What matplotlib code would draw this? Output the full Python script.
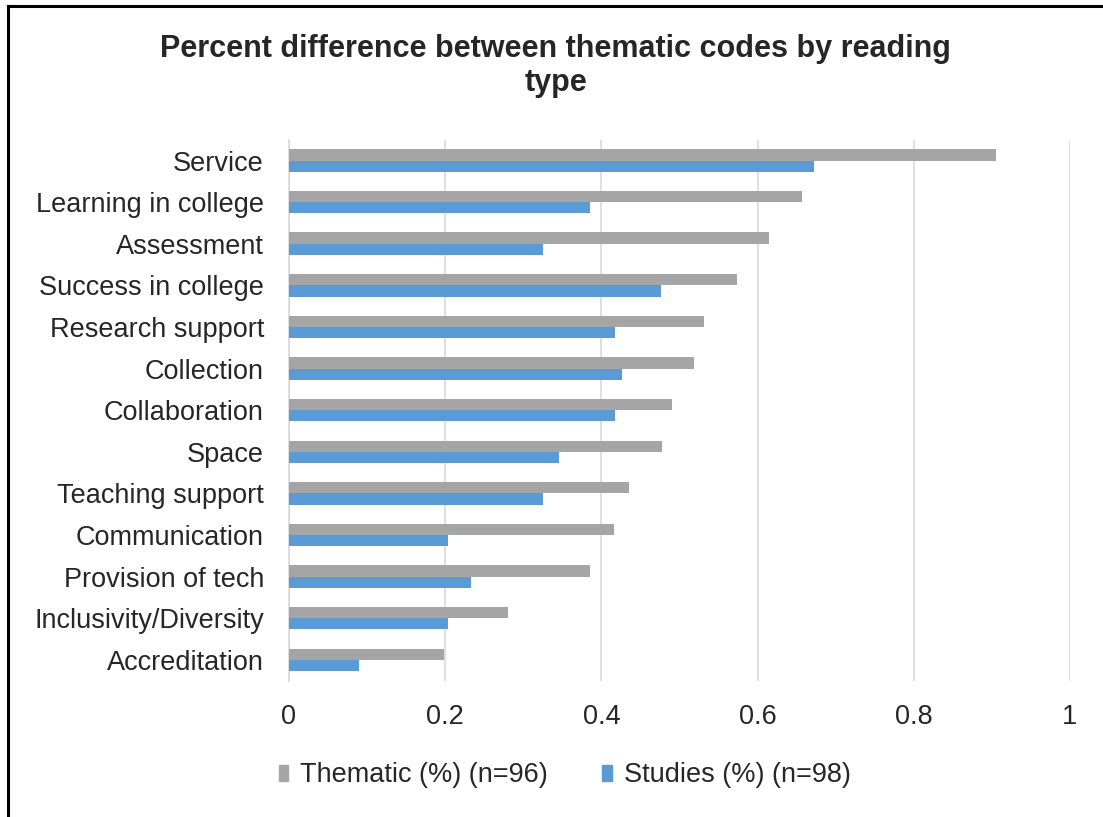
import matplotlib

matplotlib.use("Agg")
import matplotlib.pyplot as plt
from matplotlib.lines import Line2D
from matplotlib.patches import Patch
import numpy as np

plt.rcParams["font.family"] = ["Liberation Sans", "DejaVu Sans"]

codes = [
    "Service",
    "Learning in college",
    "Assessment",
    "Success in college",
    "Research support",
    "Collection",
    "Collaboration",
    "Space",
    "Teaching support",
    "Communication",
    "Provision of tech",
    "Inclusivity/Diversity",
    "Accreditation",
]
thematic = [0.905, 0.657, 0.615, 0.574, 0.532, 0.519, 0.490, 0.478, 0.436, 0.416, 0.386, 0.281, 0.198]
studies = [0.672, 0.386, 0.325, 0.477, 0.418, 0.427, 0.418, 0.346, 0.325, 0.203, 0.233, 0.203, 0.090]
xticks = [0, 0.2, 0.4, 0.6, 0.8, 1]
xtick_labels = ["0", "0.2", "0.4", "0.6", "0.8", "1"]

GRAY = "#A5A5A5"
BLUE = "#5B9BD5"
GRID = "#D9D9D9"

fig = plt.figure(figsize=(11.03, 8.17), dpi=100)
ax = fig.add_axes([0.262, 0.167, 0.708, 0.662])

y = np.arange(len(codes))
h = 0.27
ax.barh(y - h / 2, thematic, height=h, color=GRAY, zorder=3)
ax.barh(y + h / 2, studies, height=h, color=BLUE, zorder=3)

ax.set_xlim(0, 1)
ax.set_ylim(len(codes) - 0.5, -0.5)
ax.set_xticks(xticks)
ax.set_xticklabels(xtick_labels)
ax.set_yticks(y)
ax.set_yticklabels(codes)
ax.tick_params(axis="both", length=0, labelsize=19.5, colors="#262626")
ax.tick_params(axis="x", pad=17)
ax.tick_params(axis="y", pad=18)
ax.xaxis.grid(True, color=GRID, linewidth=1.2, zorder=0)
for s in ["top", "right", "bottom"]:
    ax.spines[s].set_visible(False)
ax.spines["left"].set_color(GRID)
ax.spines["left"].set_linewidth(1.2)

fig.text(0.504, 0.919, "Percent difference between thematic codes by reading\ntype",
         ha="center", va="center", fontsize=22, fontweight="bold",
         color="#262626", linespacing=1.16)

handles = [Patch(color=GRAY), Patch(color=BLUE)]
fig.legend(handles, ["Thematic (%) (n=96)", "Studies (%) (n=98)"],
           loc="center", bbox_to_anchor=(0.512, 0.051), ncol=2, frameon=False,
           fontsize=19.5, handlelength=0.35, handleheight=0.55, handletextpad=0.45,
           columnspacing=2.0, labelcolor="#262626")

# outer frame, only left and top edges visible
fig.add_artist(Line2D([0.0075, 0.0075], [0, 0.9925], transform=fig.transFigure,
                      color="black", linewidth=2.2))
fig.add_artist(Line2D([0.0075, 1.0], [0.9925, 0.9925], transform=fig.transFigure,
                      color="black", linewidth=2.2))

fig.savefig("out.png", dpi=100)
